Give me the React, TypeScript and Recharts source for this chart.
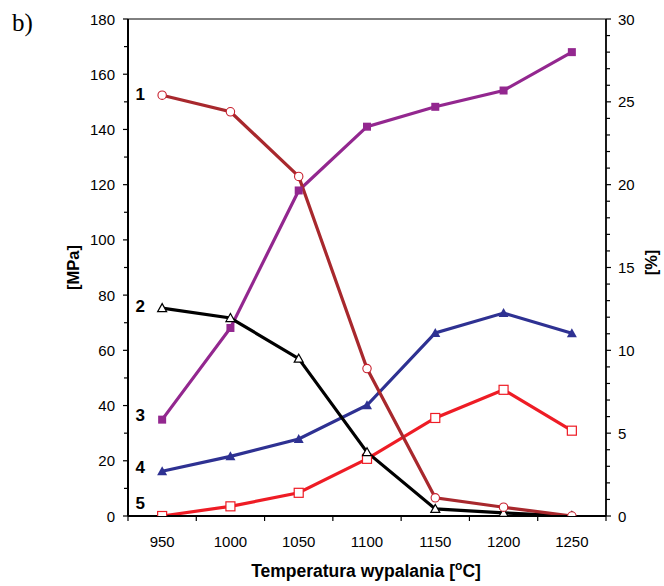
import React from 'react';
import { LineChart, Line, XAxis, YAxis, ReferenceLine, Label } from 'recharts';

const temperatures = [950, 1000, 1050, 1100, 1150, 1200, 1250];
const series1Pct = [25.4, 24.4, 20.5, 8.9, 1.1, 0.53, 0];
const series2Pct = [12.55, 11.95, 9.5, 3.85, 0.43, 0.19, 0];
const series3MPa = [34.9, 68.1, 117.9, 141, 148.2, 154.1, 168];
const series4MPa = [16.2, 21.6, 27.9, 40.1, 66.3, 73.5, 66.2];
const series5MPa = [0, 3.5, 8.4, 20.7, 35.5, 45.7, 30.9];

const xTicks = [925, 950, 975, 1000, 1025, 1050, 1075, 1100, 1125, 1150, 1175, 1200, 1225, 1250, 1275];
const leftTicks = [0, 10, 20, 30, 40, 50, 60, 70, 80, 90, 100, 110, 120, 130, 140, 150, 160, 170, 180];
const rightTicks = Array.from({ length: 31 }, (_, i) => i);

const data = temperatures.map((t, i) => ({
  t,
  s1: series1Pct[i],
  s2: series2Pct[i],
  s3: series3MPa[i],
  s4: series4MPa[i],
  s5: series5MPa[i],
}));

const FONT = '"Liberation Sans", Arial, sans-serif';
const C1 = '#A8282D';
const C1m = '#C8202E';
const C2 = '#000000';
const C3 = '#93278F';
const C4 = '#2E3192';
const C5 = '#EE1C25';

const LeftTick = (p: any) => {
  const v = p.payload.value;
  const major = v % 20 === 0;
  return (
    <g>
      <line x1={p.x - (major ? 5 : 4)} x2={p.x} y1={p.y} y2={p.y} stroke="#000" strokeWidth={1.2} />
      {major && (
        <text x={p.x - 13} y={p.y} textAnchor="end" dominantBaseline="central" fontSize={15} fontFamily={FONT} fill="#000">
          {v}
        </text>
      )}
    </g>
  );
};

const RightTick = (p: any) => {
  const v = p.payload.value;
  const major = v % 5 === 0;
  return (
    <g>
      <line x1={p.x} x2={p.x + (major ? 5 : 4)} y1={p.y} y2={p.y} stroke="#000" strokeWidth={1.2} />
      {major && (
        <text x={p.x + 12} y={p.y} textAnchor="start" dominantBaseline="central" fontSize={15} fontFamily={FONT} fill="#000">
          {v}
        </text>
      )}
    </g>
  );
};

const BottomTick = (p: any) => {
  const v = p.payload.value;
  const boundary = (v - 925) % 50 === 0;
  return (
    <g>
      {boundary ? (
        <line x1={p.x} x2={p.x} y1={p.y} y2={p.y + 5} stroke="#000" strokeWidth={1.2} />
      ) : (
        <text x={p.x} y={p.y + 25} textAnchor="middle" dominantBaseline="central" fontSize={15} fontFamily={FONT} fill="#000">
          {v}
        </text>
      )}
    </g>
  );
};

const CircleDot = (p: any) => (
  <circle key={`c${p.index}`} cx={p.cx} cy={p.cy} r={4.2} fill="#fff" stroke={C1m} strokeWidth={1.1} />
);
const OpenTri = (p: any) => (
  <polygon
    key={`ot${p.index}`}
    points={`${p.cx},${p.cy - 4.5} ${p.cx - 4.5},${p.cy + 3.5} ${p.cx + 4.5},${p.cy + 3.5}`}
    fill="#fff"
    stroke="#000"
    strokeWidth={1.2}
  />
);
const FilledSq = (p: any) => (
  <rect key={`fs${p.index}`} x={p.cx - 4} y={p.cy - 4} width={8} height={8} fill={C3} />
);
const FilledTri = (p: any) => (
  <polygon
    key={`ft${p.index}`}
    points={`${p.cx},${p.cy - 5} ${p.cx - 5},${p.cy + 4} ${p.cx + 5},${p.cy + 4}`}
    fill={C4}
  />
);
const OpenSq = (p: any) => (
  <rect key={`os${p.index}`} x={p.cx - 4.5} y={p.cy - 4.5} width={9} height={9} fill="#fff" stroke={C5} strokeWidth={1.2} />
);

const makeLabel = (num: string, dy: number) => (p: any) => {
  if (p.index !== 0) return null;
  const x = p.x ?? p.viewBox?.x;
  const y = p.y ?? p.viewBox?.y;
  return (
    <text key={`lbl${num}`} x={x - 22} y={y + dy} textAnchor="middle" dominantBaseline="central" fontSize={17} fontWeight="bold" fontFamily={FONT} fill="#000">
      {num}
    </text>
  );
};

const XTitle = () => (
  <text x={366} y={577} textAnchor="middle" fontSize={17.5} fontWeight="bold" fontFamily={FONT} fill="#000">
    Temperatura wypalania [<tspan fontSize={12} dy={-7}>o</tspan><tspan dy={7}>C]</tspan>
  </text>
);

export default function App() {
  return (
    <div style={{ position: 'absolute', left: 0, top: 0, width: 664, height: 586, background: '#fff' }}>
      <svg style={{ position: 'absolute', left: 0, top: 0 }} width={60} height={50}>
        <text x={12} y={31} fontSize={25} fontFamily='"Liberation Serif", "Times New Roman", serif' fill="#000">b)</text>
      </svg>
      <LineChart width={664} height={586} data={data} margin={{ top: 19, right: 0, bottom: 0, left: 0 }}>
        <XAxis
          dataKey="t"
          type="number"
          domain={[925, 1275]}
          ticks={xTicks}
          interval={0}
          height={70}
          tickSize={0}
          tickMargin={0}
          tickLine={false}
          tick={<BottomTick />}
          axisLine={{ stroke: '#000', strokeWidth: 2 }}
          allowDataOverflow
        >
          <Label content={<XTitle />} />
        </XAxis>
        <YAxis
          yAxisId="left"
          orientation="left"
          width={128}
          domain={[0, 180]}
          ticks={leftTicks}
          interval={0}
          tickSize={0}
          tickMargin={0}
          tickLine={false}
          tick={<LeftTick />}
          axisLine={{ stroke: '#000', strokeWidth: 2 }}
          allowDataOverflow
        >
          <Label value="[MPa]" angle={-90} position="center" dx={9} fontSize={16.5} fontWeight="bold" fontFamily={FONT} fill="#000" />
        </YAxis>
        <YAxis
          yAxisId="right"
          orientation="right"
          width={58}
          domain={[0, 30]}
          ticks={rightTicks}
          interval={0}
          tickSize={0}
          tickMargin={0}
          tickLine={false}
          tick={<RightTick />}
          axisLine={{ stroke: '#000', strokeWidth: 1.8 }}
          allowDataOverflow
        >
          <Label value="[%]" angle={-90} position="center" dx={16} dy={-5} fontSize={16.5} fontWeight="bold" fontFamily={FONT} fill="#000" />
        </YAxis>
        <ReferenceLine yAxisId="left" y={180} stroke="#000" strokeWidth={1} />
        <Line yAxisId="left" dataKey="s5" stroke={C5} strokeWidth={3.2} dot={(p: any) => <OpenSq {...p} key={`os${p.index}`} />} label={makeLabel('5', -12.5)} isAnimationActive={false} />
        <Line yAxisId="left" dataKey="s4" stroke={C4} strokeWidth={3.2} dot={(p: any) => <FilledTri {...p} key={`ft${p.index}`} />} label={makeLabel('4', -3.5)} isAnimationActive={false} />
        <Line yAxisId="left" dataKey="s3" stroke={C3} strokeWidth={3.2} dot={(p: any) => <FilledSq {...p} key={`fs${p.index}`} />} label={makeLabel('3', -4)} isAnimationActive={false} />
        <Line yAxisId="right" dataKey="s2" stroke={C2} strokeWidth={3.2} dot={(p: any) => <OpenTri {...p} key={`ot${p.index}`} />} label={makeLabel('2', -2)} isAnimationActive={false} />
        <Line yAxisId="right" dataKey="s1" stroke={C1} strokeWidth={3.2} dot={(p: any) => <CircleDot {...p} key={`c${p.index}`} />} label={makeLabel('1', -1)} isAnimationActive={false} />
      </LineChart>
    </div>
  );
}
